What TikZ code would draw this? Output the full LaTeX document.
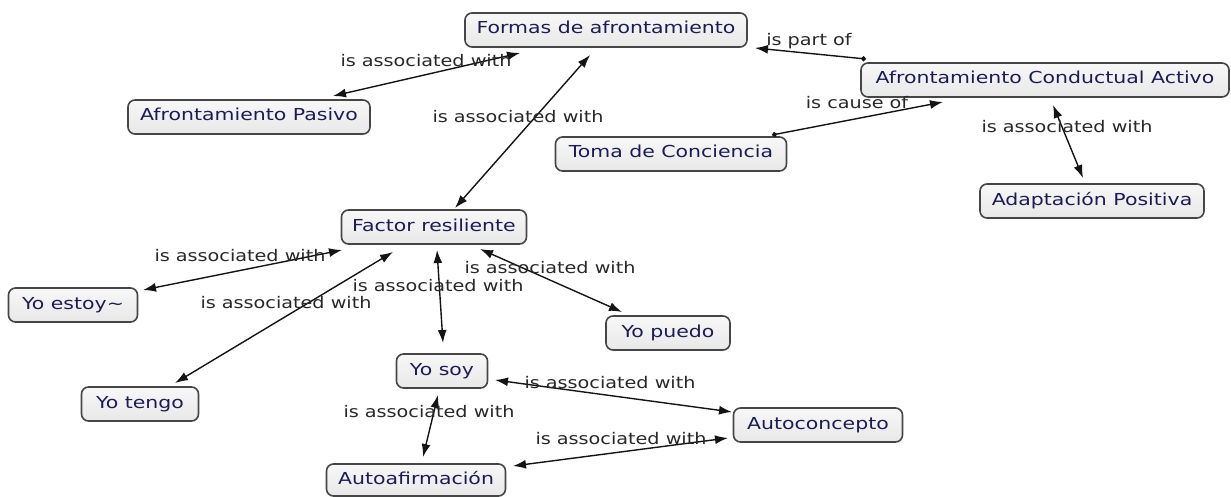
\documentclass[tikz,border=0pt]{standalone}
\usepackage{fontspec}
\usetikzlibrary{arrows.meta,calc}
\newfontfamily\cnodefont[FakeStretch=1.24]{DejaVu Sans}
\newfontfamily\clabfont[FakeStretch=1.2]{DejaVu Sans}
\definecolor{nodetext}{RGB}{28,28,85}
\definecolor{labtext}{RGB}{40,40,40}
\definecolor{boxedge}{RGB}{70,70,70}
\definecolor{linecol}{RGB}{20,20,20}
\tikzset{
  concept/.style={draw=boxedge, line width=1.6pt, rounded corners=7pt,
    top color=white!97!black, bottom color=black!9, text=nodetext,
    font=\cnodefont\fontsize{16.5}{18}\selectfont,
    text height=1.0em, text depth=0.2em, inner sep=0pt, minimum height=34pt},
  linklab/.style={text=labtext, font=\clabfont\fontsize{16}{18}\selectfont, inner sep=0pt},
  biarr/.style={draw=linecol, line width=1.4pt, {Latex[length=13pt,width=9pt]}-{Latex[length=13pt,width=9pt]}},
  oneway/.style={draw=linecol, line width=1.4pt, {Circle[length=5pt]}-{Latex[length=13pt,width=9pt]}}
}
\begin{document}
\begin{tikzpicture}[x=1pt,y=-1pt]
\useasboundingbox (0,0) rectangle (1231,497);
% concepts
\node[concept, minimum width=282pt] (formas) at (606,30) {Formas de afrontamiento};
\node[concept, minimum width=368pt] (aca) at (1045,80) {Afrontamiento Conductual Activo};
\node[concept, minimum width=224pt] (adapt) at (1092,201) {Adaptación Positiva};
\node[concept, minimum width=231pt] (toma) at (671,154) {Toma de Conciencia};
\node[concept, minimum width=242pt] (pasivo) at (249,117) {Afrontamiento Pasivo};
\node[concept, minimum width=185pt] (factor) at (434,227) {Factor resiliente};
\node[concept, minimum width=129pt] (estoy) at (73,305) {Yo estoy\textasciitilde};
\node[concept, minimum width=117pt] (tengo) at (140,404) {Yo tengo};
\node[concept, minimum width=124pt] (puedo) at (668,333) {Yo puedo};
\node[concept, minimum width=91pt] (soy) at (442,371) {Yo soy};
\node[concept, minimum width=179pt, minimum height=32pt] (autoaf) at (416,480) {Autoafirmación};
\node[concept, minimum width=169pt] (autoc) at (818,425) {Autoconcepto};
% connectors
\draw[biarr] ($(formas)+(-86,23)$) -- ($(pasivo)+(84,-21)$);
\draw[biarr] ($(formas)+(-16,25)$) -- ($(factor)+(21,-19)$);
\draw[oneway] ($(aca)+(-179,-21)$) -- ($(formas)+(149,18)$);
\draw[oneway] ($(toma)+(101,-19)$) -- ($(aca)+(-102,22)$);
\draw[biarr] ($(aca)+(8,25)$) -- ($(adapt)+(-9,-23)$);
\draw[biarr] ($(factor)+(-92,23)$) -- ($(estoy)+(70,-15)$);
\draw[biarr] ($(factor)+(-41,25)$) -- ($(tengo)+(35,-21)$);
\draw[biarr] ($(factor)+(3,23)$) -- ($(soy)+(1,-28)$);
\draw[biarr] ($(factor)+(46,22)$) -- ($(puedo)+(-46,-21)$);
\draw[biarr] ($(soy)+(53,9)$) -- ($(autoc)+(-86,-13)$);
\draw[biarr] ($(soy)+(-4,24)$) -- ($(autoaf)+(7,-23)$);
\draw[biarr] ($(autoaf)+(97,-14)$) -- ($(autoc)+(-90,13)$);
% link labels
\node[linklab] (l1) at (426,61) {is associated with};
\node[linklab] (l2) at (518,117) {is associated with};
\node[linklab] (l3) at (809,41) {is part of};
\node[linklab] (l4) at (857,103) {is cause of};
\node[linklab] (l5) at (1067,127) {is associated with};
\node[linklab] (l6) at (240,256) {is associated with};
\node[linklab] (l7) at (286,303) {is associated with};
\node[linklab] (l8) at (438,286) {is associated with};
\node[linklab] (l9) at (550,268) {is associated with};
\node[linklab] (l10) at (610,383) {is associated with};
\node[linklab] (l11) at (429,412) {is associated with};
\node[linklab] (l12) at (621,439) {is associated with};
\end{tikzpicture}
\end{document}
